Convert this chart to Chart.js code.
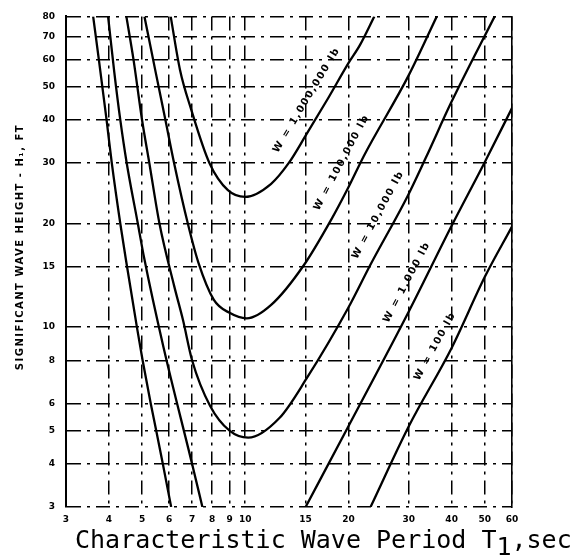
<!DOCTYPE html>
<html>
<head>
<meta charset="utf-8">
<title>Significant wave height vs. characteristic wave period</title>
<script src="https://cdn.jsdelivr.net/npm/chart.js@4.4.1/dist/chart.umd.min.js"></script>
<style>
    html, body { margin: 0; padding: 0; background: #fff; }
    #wrap { width: 587px; height: 555px; position: relative; }
</style>
</head>
<body>
<div id="wrap"><canvas id="waveChart"></canvas></div>
<script>
// ---------- Axis ticks ----------
const periodTicks = [3, 4, 5, 6, 7, 8, 9, 10, 15, 20, 30, 40, 50, 60];
const heightTicks = [3, 4, 5, 6, 8, 10, 15, 20, 30, 40, 50, 60, 70, 80];

// ---------- Curves: period T (sec) / wave height H (ft) ----------
// W = 1,000,000 lb
const w1000000T = [6.06, 6.45, 6.95, 7.86, 8.9, 10.0, 11.9, 13.4, 15, 17.5, 20, 21.6, 23.8];
const w1000000H = [80, 56, 43, 30, 25, 23.9, 26.1, 30, 36, 46.5, 58.5, 66, 80];

// W = 100,000 lb
const w100000T = [5.08, 5.48, 5.85, 6.2, 6.8, 7.3, 8.1, 9.0, 10.1, 11.9, 14.8, 17.8, 20, 22.2, 30, 36.2];
const w100000H = [80, 55, 40, 30, 20, 15.4, 12, 11.0, 10.6, 11.6, 15.1, 20.5, 25.5, 31.5, 54, 80];

// W = 10,000 lb
const w10000T = [4.5, 4.72, 5.0, 5.25, 5.62, 6.2, 6.58, 7.0, 7.9, 9.0, 10.2, 12.6, 15.1, 20, 23.2, 29.8, 33.6, 39.9, 53.4];
const w10000H = [80, 60, 40, 30, 20, 13.2, 10.5, 8, 5.9, 5.0, 4.77, 5.45, 7.09, 11.4, 15.2, 24.1, 31, 45, 80];

// W = 1,000 lb (both branches leave the plot below 3 ft)
const w1000LeftT = [3.98, 4.15, 4.32, 4.51, 4.86, 5.07, 5.77, 6.99, 7.5];
const w1000LeftH = [80, 55, 40, 30, 20, 15.9, 8.77, 4.02, 3];
const w1000RightT = [15, 20, 30, 40, 50, 60];
const w1000RightH = [3, 5.15, 11.1, 19.7, 30.2, 43.3];

// W = 100 lb
const w100LeftT = [3.6, 3.74, 3.94, 4.08, 4.32, 4.52, 4.83, 5.02, 5.3, 5.5, 5.75, 6.08];
const w100LeftH = [80, 60, 40, 30, 20, 15, 10, 8, 6, 5, 4, 3];
const w100RightT = [23.2, 30, 40, 50, 60];
const w100RightH = [3, 5.15, 8.7, 14, 19.6];

// ---------- Curve labels (anchored in data units) ----------
const curveLabels = ["W = 1,000,000 lb", "W = 100,000 lb", "W = 10,000 lb", "W = 1,000 lb", "W = 100 lb"];
const labelT = [15.1, 19.1, 24.4, 29.6, 35.8];
const labelH = [45.7, 30.1, 21.2, 13.5, 8.8];
const labelBranchT = [w1000000T, w100000T, w10000T, w1000RightT, w100RightT];
const labelBranchH = [w1000000H, w100000H, w10000H, w1000RightH, w100RightH];

function toPoints(ts, hs) {
    return ts.map((t, i) => ({ x: t, y: hs[i] }));
}

function curve(label, ts, hs) {
    return {
        label: label,
        data: toPoints(ts, hs),
        showLine: true,
        borderColor: "#000",
        borderWidth: 2.3,
        pointRadius: 0,
        fill: false,
        cubicInterpolationMode: "monotone"
    };
}

// ---------- Rotated labels along the rising branches ----------
const curveLabelPlugin = {
    id: "curveLabels",
    afterDatasetsDraw(chart) {
        const { ctx, scales: { x, y } } = chart;
        ctx.save();
        ctx.fillStyle = "#000";
        ctx.font = "bold 10px 'DejaVu Sans', sans-serif";
        ctx.letterSpacing = "1.5px";
        ctx.textAlign = "center";
        ctx.textBaseline = "middle";

        curveLabels.forEach((text, i) => {
            const ts = labelBranchT[i];
            const hs = labelBranchH[i];
            let k = 1;
            while (k < ts.length - 1 && ts[k] < labelT[i]) k++;
            const dx = x.getPixelForValue(ts[k]) - x.getPixelForValue(ts[k - 1]);
            const dy = y.getPixelForValue(hs[k]) - y.getPixelForValue(hs[k - 1]);

            ctx.save();
            ctx.translate(x.getPixelForValue(labelT[i]), y.getPixelForValue(labelH[i]));
            ctx.rotate(Math.atan2(dy, dx));
            ctx.fillText(text, 0, 0);
            ctx.restore();
        });
        ctx.restore();
    }
};

// ---------- Axis titles ----------
const axisTitlePlugin = {
    id: "axisTitles",
    afterDraw(chart) {
        const { ctx, chartArea } = chart;
        ctx.save();
        ctx.fillStyle = "#000";

        // x title, subscript 1 dropped below the baseline
        ctx.font = "25px 'DejaVu Sans Mono', monospace";
        ctx.textAlign = "left";
        ctx.textBaseline = "alphabetic";
        const main = "Characteristic Wave Period T";
        const base = chart.height - 7;
        let tx = chartArea.left + 9;
        ctx.fillText(main, tx, base);
        tx += ctx.measureText(main).width;
        ctx.fillText("1", tx, base + 7);
        tx += ctx.measureText("1").width;
        ctx.fillText(",sec", tx, base);

        // y title
        ctx.font = "bold 10px 'DejaVu Sans', sans-serif";
        ctx.letterSpacing = "1.5px";
        ctx.textAlign = "center";
        ctx.textBaseline = "middle";
        ctx.translate(20, chartArea.top + (chartArea.bottom - chartArea.top) * 0.47);
        ctx.rotate(-Math.PI / 2);
        ctx.fillText("SIGNIFICANT WAVE HEIGHT - H\u2081, FT", 0, 0);
        ctx.restore();
    }
};

const tickFont = { family: "'DejaVu Sans', sans-serif", size: 9, weight: "bold" };
const gridDash = [14, 6, 3, 6];

new Chart(document.getElementById("waveChart"), {
    type: "scatter",
    data: {
        datasets: [
            curve("W = 1,000,000 lb", w1000000T, w1000000H),
            curve("W = 100,000 lb", w100000T, w100000H),
            curve("W = 10,000 lb", w10000T, w10000H),
            curve("W = 1,000 lb", w1000LeftT, w1000LeftH),
            curve("W = 1,000 lb", w1000RightT, w1000RightH),
            curve("W = 100 lb", w100LeftT, w100LeftH),
            curve("W = 100 lb", w100RightT, w100RightH)
        ]
    },
    options: {
        responsive: true,
        maintainAspectRatio: false,
        animation: false,
        layout: { padding: { top: 10, right: 75, left: 0, bottom: 0 } },
        plugins: {
            legend: { display: false },
            tooltip: { enabled: false }
        },
        scales: {
            x: {
                type: "logarithmic",
                min: 3,
                max: 60,
                afterBuildTicks: (s) => { s.ticks = periodTicks.map(v => ({ value: v })); },
                afterFit: (s) => { s.height = 48; },
                ticks: {
                    autoSkip: false,
                    maxRotation: 0,
                    padding: 7,
                    color: "#000",
                    font: tickFont,
                    callback: (v) => String(v)
                },
                grid: { color: "#000", lineWidth: 1.5, drawTicks: false },
                border: { display: false, dash: gridDash }
            },
            y: {
                type: "logarithmic",
                min: 3,
                max: 80,
                afterBuildTicks: (s) => { s.ticks = heightTicks.map(v => ({ value: v })); },
                afterFit: (s) => { s.width = 66; },
                ticks: {
                    autoSkip: false,
                    padding: 11,
                    color: "#000",
                    font: tickFont,
                    callback: (v) => String(v)
                },
                grid: { color: "#000", lineWidth: 1.5, drawTicks: false },
                border: { display: true, color: "#000", width: 2, dash: gridDash }
            },
            yRight: {
                type: "logarithmic",
                position: "right",
                min: 3,
                max: 80,
                afterFit: (s) => { s.width = 0; },
                ticks: { display: false },
                grid: { display: false },
                border: { display: true, color: "#000", width: 1.6 }
            }
        }
    },
    plugins: [curveLabelPlugin, axisTitlePlugin]
});
</script>
</body>
</html>
